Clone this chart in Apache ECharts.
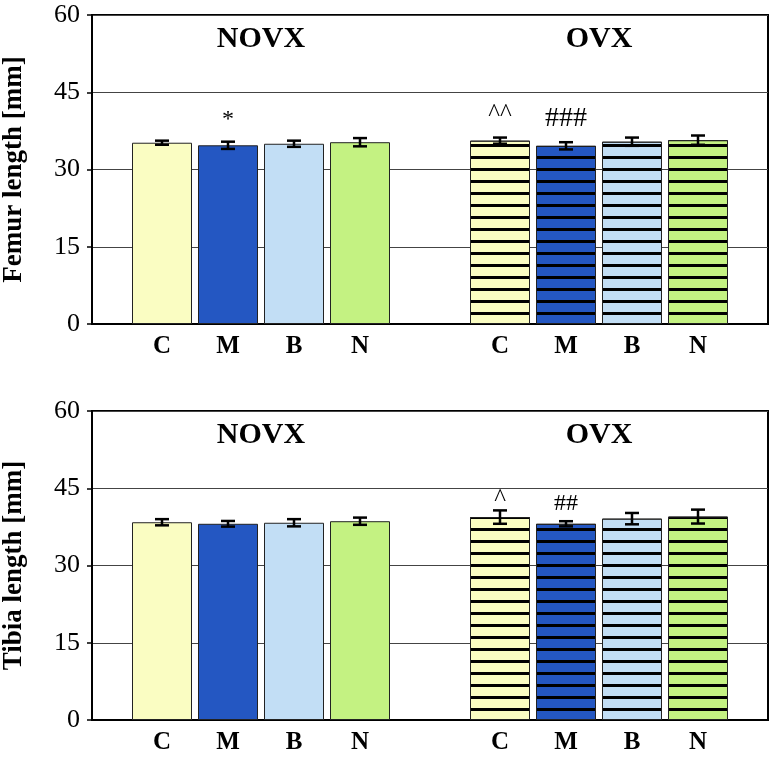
<!DOCTYPE html>
<html>
<head>
<meta charset="utf-8">
<script src="https://cdn.jsdelivr.net/npm/echarts@6/dist/echarts.min.js"></script>
<style>html,body{margin:0;padding:0;background:#fff}#c{width:773px;height:760px}</style>
</head>
<body>
<div id="c"></div>
<script>
// ---- data ----
const groupNames = ['NOVX', 'OVX'];
const treatments = ['C', 'M', 'B', 'N'];
const yTicks = [0, 15, 30, 45, 60];
// [group][treatment]
const femurMeans = [[35.2, 34.7, 35.0, 35.3], [35.6, 34.6, 35.4, 35.7]];
const femurErrs  = [[0.4, 0.7, 0.6, 0.8], [0.6, 0.7, 0.8, 0.9]];
const femurMarks = [['', '*', '', ''], ['^^', '###', '', '']];
const tibiaMeans = [[38.4, 38.1, 38.3, 38.6], [39.4, 38.1, 39.1, 39.5]];
const tibiaErrs  = [[0.6, 0.55, 0.7, 0.7], [1.3, 0.5, 1.1, 1.35]];
const tibiaMarks = [['', '', '', ''], ['^', '##', '', '']];
const panelTitles = ['Femur length [mm]', 'Tibia length [mm]'];

// ---- styles ----
const colors = ['#FAFDC2', '#2457C2', '#C2DEF5', '#C4F282'];
const SERIF = '"Liberation Serif", "Times New Roman", serif';
const BAR_W = 60, BAR_STEP = 66;
const stripeDecal = { symbol: 'rect', dashArrayX: [1, 0], dashArrayY: [3, 9], symbolSize: 1, color: '#000', rotation: 0 };
// per-panel mark text styling: [fontSize, gap above error bar]
const markStyles = [
  { '*': [24, 10], '^^': [25, 11], '###': [28, 10] },
  { '^': [25, -2], '##': [24, 6] }
];

const panels = [
  { means: femurMeans, errs: femurErrs, marks: femurMarks, top: 15 },
  { means: tibiaMeans, errs: tibiaErrs, marks: tibiaMarks, top: 411 }
];

const grid = [], xAxis = [], yAxis = [], series = [];
panels.forEach((p, gi) => {
  grid.push({ left: 92, right: 5, top: p.top, height: 309, show: true, borderColor: '#000', borderWidth: 2,
    backgroundColor: 'transparent', containLabel: false, outerBoundsMode: 'none' });
  xAxis.push({ type: 'category', gridIndex: gi, data: groupNames, axisLine: { lineStyle: { color: '#000', width: 2 } }, axisTick: { show: false }, axisLabel: { show: false } });
  xAxis.push({ type: 'category', gridIndex: gi, position: 'top', data: groupNames, axisLine: { show: false }, axisTick: { show: false },
    axisLabel: { inside: true, margin: 9, color: '#000', fontFamily: SERIF, fontWeight: 'bold', fontSize: 30 } });
  yAxis.push({ type: 'value', gridIndex: gi, min: yTicks[0], max: yTicks[yTicks.length - 1], interval: yTicks[1] - yTicks[0],
    name: panelTitles[gi], nameLocation: 'middle', nameGap: 64,
    nameTextStyle: { color: '#000', fontFamily: SERIF, fontWeight: 'bold', fontSize: 27 },
    axisLine: { show: true, lineStyle: { color: '#000', width: 2 } },
    axisTick: { show: true, length: 5, lineStyle: { color: '#000', width: 1.5 } },
    axisLabel: { margin: 12, color: '#000', fontFamily: SERIF, fontSize: 26 },
    splitLine: { show: true, lineStyle: { color: '#444', width: 1 } } });

  treatments.forEach((t, k) => {
    series.push({
      type: 'bar', name: t, xAxisIndex: gi * 2, yAxisIndex: gi,
      barWidth: BAR_W, barGap: '10%',
      itemStyle: { color: colors[k], borderColor: '#222', borderWidth: 1 },
      label: { show: true, position: 'bottom', distance: 10, formatter: t, color: '#000', fontFamily: SERIF, fontWeight: 'bold', fontSize: 25 },
      data: groupNames.map((g, c) => c === 1 ? { value: p.means[c][k], itemStyle: { decal: stripeDecal } } : p.means[c][k])
    });
  });

  const rows = [], marks = [];
  groupNames.forEach((g, c) => treatments.forEach((t, k) => {
    rows.push([c, p.means[c][k], p.errs[c][k], k]);
    marks.push(p.marks[c][k]);
  }));
  series.push({
    type: 'custom', xAxisIndex: gi * 2, yAxisIndex: gi, z: 10, data: rows,
    renderItem: (params, api) => {
      const c = api.value(0), m = api.value(1), e = api.value(2), k = api.value(3);
      const x = api.coord([c, m])[0] + (k - 1.5) * BAR_STEP;
      const yT = api.coord([c, m + e])[1];
      const yB = api.coord([c, m - e])[1];
      const ls = { stroke: '#000', lineWidth: 2.5 };
      const children = [
        { type: 'line', shape: { x1: x, y1: yT, x2: x, y2: yB }, style: ls },
        { type: 'line', shape: { x1: x - 7, y1: yT, x2: x + 7, y2: yT }, style: ls },
        { type: 'line', shape: { x1: x - 7, y1: yB, x2: x + 7, y2: yB }, style: ls }
      ];
      const mk = marks[params.dataIndex];
      if (mk) {
        const st = markStyles[gi][mk] || [24, 6];
        children.push({ type: 'text', style: { text: mk, x: x, y: yT - st[1], align: 'center', verticalAlign: 'bottom', fill: '#000', font: st[0] + 'px ' + SERIF } });
      }
      return { type: 'group', children };
    }
  });
});

const chart = echarts.init(document.getElementById('c'), null, { renderer: 'canvas' });
chart.setOption({ animation: false, backgroundColor: '#fff', grid, xAxis, yAxis, series });
</script>
</body>
</html>
